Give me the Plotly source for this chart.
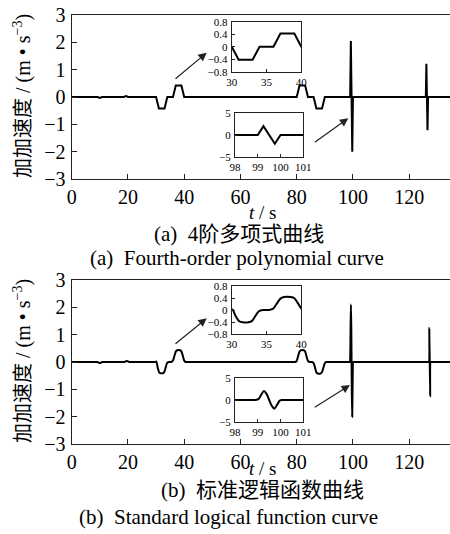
import plotly.graph_objects as go

# ---------------- data ----------------
# (a) fourth-order polynomial curve: jerk breakpoints
t_a = [0, 9.3, 9.7, 10.3, 10.7, 18.6, 19.0, 19.6, 20.0,
       30, 31, 33, 34, 36, 37, 39, 40,
       80, 81, 83, 84, 86, 87, 89, 90,
       99, 99.25, 99.75, 100,
       125.9, 126.1, 126.5, 126.7, 135]
j_a = [0, 0, -0.03, -0.03, 0, 0, 0.03, 0.03, 0,
       0, -0.42, -0.42, 0, 0, 0.42, 0.42, 0,
       0, 0.42, 0.42, 0, 0, -0.42, -0.42, 0,
       0, 2.05, -2.0, 0,
       0, 1.22, -1.22, 0, 0]

# (b) standard logistic function curve: jerk samples
t_b = [0, 9.0, 9.2, 9.7, 10.3, 10.8, 11.0,
       18.6, 18.8, 19.3, 19.9, 20.4, 20.6,
       29.5, 29.8, 30.1, 30.6, 31.1, 31.6, 32.4, 32.9, 33.4, 33.9, 34.5,
       35.0, 35.5, 36.0, 36.5, 37.0, 37.5, 38.5, 39.0, 39.5, 40.0, 40.5, 41.0,
       79.0, 79.5, 80.0, 80.5, 81.0, 81.5, 82.5, 83.0, 83.5, 84.0, 84.6,
       85.0, 85.4, 86.0, 86.5, 87.0, 87.5, 88.5, 89.0, 89.5, 90.0, 90.5, 91.0,
       98.7, 98.9, 99.05, 99.15, 99.27, 99.4, 99.5, 99.6, 99.73, 99.85, 99.95, 100.05, 100.3,
       126.8, 127.0, 127.15, 127.45, 127.6, 127.8, 135]
j_b = [0, 0, 0, -0.03, -0.03, 0, 0,
       0, 0, 0.03, 0.03, 0, 0,
       0, 0, 0.02, -0.22, -0.38, -0.41, -0.41, -0.37, -0.2, -0.04, 0.0,
       0.0, 0.01, 0.05, 0.22, 0.38, 0.43, 0.43, 0.39, 0.23, 0.05, 0, 0,
       0, 0, 0.04, 0.22, 0.38, 0.43, 0.43, 0.38, 0.2, 0.04, 0,
       0, 0, -0.04, -0.2, -0.38, -0.42, -0.42, -0.37, -0.2, -0.04, 0, 0,
       0, 0, 0.3, 1.2, 2.1, 1.3, 0, -1.2, -2.0, -1.1, -0.2, 0, 0,
       0, 0, 1.24, -1.26, 0, 0, 0]

main_y_ticks = [-3, -2, -1, 0, 1, 2, 3]
main_x_ticks = [0, 20, 40, 60, 80, 100, 120]
inset1_y_ticks = [-0.8, -0.4, 0, 0.4, 0.8]
inset1_x_ticks = [30, 35, 40]
inset2_y_ticks = [-5, 0, 5]
inset2_x_ticks = [98, 99, 100, 101]

ylabel = "加加速度 / (m • s<sup>−3</sup>)"
xlabel = "<i>t</i> / s"
cap_a_cn = "(a)  4阶多项式曲线"
cap_a_en = "(a)  Fourth-order polynomial curve"
cap_b_cn = "(b)  标准逻辑函数曲线"
cap_b_en = "(b)  Standard logical function curve"

# ---------------- layout helpers ----------------
W, H = 450, 534
SERIF = "'Liberation Serif', 'Noto Sans CJK SC', serif"


def px(x):
    return x / W


def py(y):
    return 1 - y / H


fig = go.Figure()

line_a = dict(color="black", width=2)
line_b = dict(color="black", width=2, shape="spline", smoothing=0.6)

# main traces
fig.add_trace(go.Scatter(x=t_a, y=j_a, mode="lines", line=line_a, xaxis="x", yaxis="y", showlegend=False))
fig.add_trace(go.Scatter(x=t_b, y=j_b, mode="lines", line=line_b, xaxis="x2", yaxis="y2", showlegend=False))
# insets top
fig.add_trace(go.Scatter(x=t_a, y=j_a, mode="lines", line=line_a, xaxis="x3", yaxis="y3", showlegend=False))
fig.add_trace(go.Scatter(x=t_a, y=j_a, mode="lines", line=line_a, xaxis="x4", yaxis="y4", showlegend=False))
# insets bottom
fig.add_trace(go.Scatter(x=t_b, y=j_b, mode="lines", line=line_b, xaxis="x5", yaxis="y5", showlegend=False))
fig.add_trace(go.Scatter(x=t_b, y=j_b, mode="lines", line=line_b, xaxis="x6", yaxis="y6", showlegend=False))

main_font = dict(family=SERIF, size=20, color="black")
inset_font = dict(family=SERIF, size=11, color="black")


def main_x(anchor):
    return dict(range=[0, 134.5], tickvals=main_x_ticks, ticks="inside", ticklen=5, tickcolor="#222",
                showline=True, linecolor="#222", linewidth=1.3, mirror=True, showgrid=False, zeroline=False,
                tickfont=main_font, domain=[px(71.7), 1], anchor=anchor, ticklabelstandoff=0)


def main_y(dom, anchor):
    return dict(range=[-3, 3], tickvals=main_y_ticks, ticks="inside", ticklen=5, tickcolor="#222",
                showline=True, linecolor="#222", linewidth=1.3, showgrid=False, zeroline=False,
                tickfont=main_font, domain=dom, anchor=anchor, ticklabelstandoff=1)


def inset_x(xr, tv, dom, anchor):
    return dict(range=xr, tickvals=tv, ticks="inside", ticklen=3, tickcolor="#222",
                showline=True, linecolor="#222", linewidth=1.2, mirror=True, showgrid=False, zeroline=False,
                tickfont=inset_font, domain=dom, anchor=anchor, ticklabelstandoff=0)


def inset_y(yr, tv, dom, anchor):
    return dict(range=yr, tickvals=tv, ticks="inside", ticklen=3, tickcolor="#222",
                showline=True, linecolor="#222", linewidth=1.2, mirror=True, showgrid=False, zeroline=False,
                tickfont=inset_font, domain=dom, anchor=anchor, ticklabelstandoff=1)


ins1_x = [px(231.7), px(301.3)]
ins2_x = [px(235.0), px(303.3)]

fig.update_layout(
    width=W, height=H,
    font=dict(family=SERIF, color="black"),
    margin=dict(l=0, r=0, t=0, b=0, autoexpand=False),
    paper_bgcolor="white", plot_bgcolor="white",
    xaxis=main_x("y"),
    yaxis=main_y([py(179), py(15)], "x"),
    xaxis2=main_x("y2"),
    yaxis2=main_y([py(444), py(280)], "x2"),
    xaxis3=inset_x([30, 40], inset1_x_ticks, ins1_x, "y3"),
    yaxis3=inset_y([-0.8, 0.8], inset1_y_ticks, [py(71.7), py(21.7)], "x3"),
    xaxis4=inset_x([98, 101], inset2_x_ticks, ins2_x, "y4"),
    yaxis4=inset_y([-5, 5], inset2_y_ticks, [py(156.7), py(113.3)], "x4"),
    xaxis5=inset_x([30, 40], inset1_x_ticks, ins1_x, "y5"),
    yaxis5=inset_y([-0.8, 0.8], inset1_y_ticks, [py(334), py(286)], "x5"),
    xaxis6=inset_x([98, 101], inset2_x_ticks, ins2_x, "y6"),
    yaxis6=inset_y([-5, 5], inset2_y_ticks, [py(421.7), py(378.3)], "x6"),
)

ann = []


def text_ann(txt, x, y, size, angle=0):
    ann.append(dict(text=txt, x=px(x), y=py(y), xref="paper", yref="paper", showarrow=False,
                    xanchor="center", yanchor="middle", textangle=angle,
                    font=dict(family=SERIF, size=size, color="black")))


def arrow(tail, head):
    ann.append(dict(text="", x=px(head[0]), y=py(head[1]), xref="paper", yref="paper",
                    ax=tail[0] - head[0], ay=tail[1] - head[1], axref="pixel", ayref="pixel",
                    showarrow=True, arrowhead=2, arrowsize=1.4, arrowwidth=1.2, arrowcolor="#222"))


# y titles
text_ann(ylabel, 22, 96, 20, -90)
text_ann(ylabel, 22, 361, 20, -90)
# x titles
text_ann(xlabel, 262, 212, 19)
text_ann(xlabel, 262, 468, 19)
# captions
text_ann(cap_a_cn, 239, 234, 21)
text_ann(cap_a_en, 237, 258, 21)
text_ann(cap_b_cn, 262, 490, 21)
text_ann(cap_b_en, 229, 517, 21)
# arrows
arrow((174, 80), (206.7, 52.7))
arrow((313.3, 143.3), (348.3, 118.3))
arrow((174, 345), (206.7, 318.3))
arrow((313.3, 408.3), (350, 385))

fig.update_layout(annotations=ann)

fig.write_html("out.html", config={"displayModeBar": False},
               post_script="document.body.style.margin='0';document.body.style.overflow='hidden';")
